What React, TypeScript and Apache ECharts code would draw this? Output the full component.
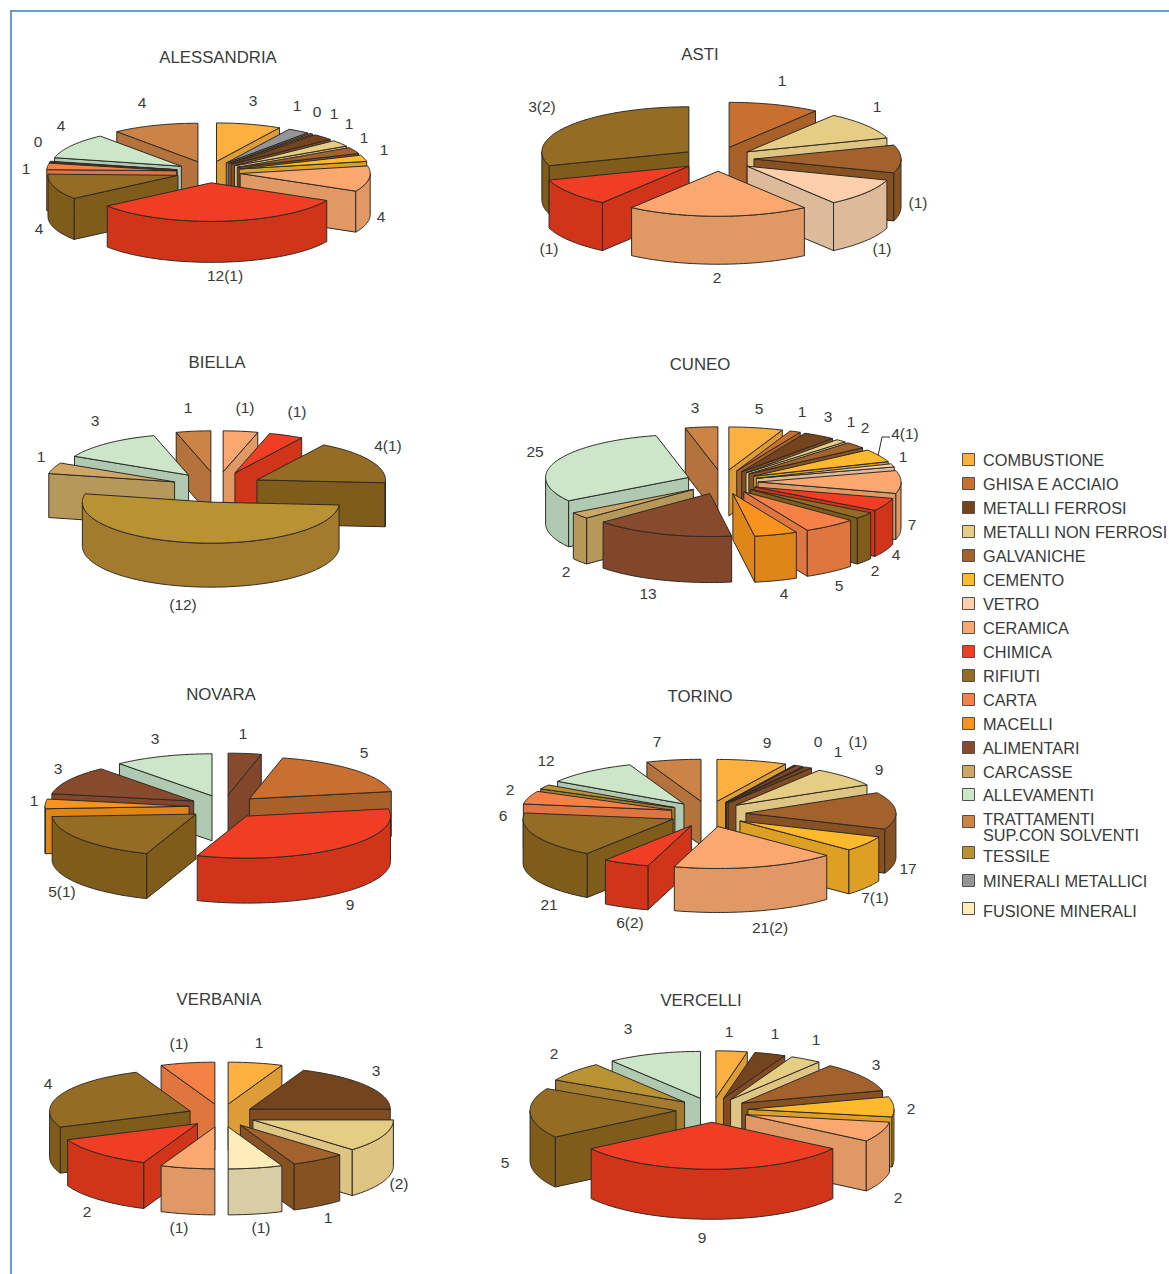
import React, { useEffect, useRef } from "react";
import * as echarts from "echarts";

const FONT = '"Liberation Sans", Arial, sans-serif';
const TEXT_COLOR = "#3a3a3a";
const EDGE_COLOR = "#2e2a26";
const FRAME_COLOR = "#2f80c8";

// Legend rows, in reading order.
const CATEGORY_NAMES = [
  "COMBUSTIONE",
  "GHISA E ACCIAIO",
  "METALLI FERROSI",
  "METALLI NON FERROSI",
  "GALVANICHE",
  "CEMENTO",
  "VETRO",
  "CERAMICA",
  "CHIMICA",
  "RIFIUTI",
  "CARTA",
  "MACELLI",
  "ALIMENTARI",
  "CARCASSE",
  "ALLEVAMENTI",
  "TRATTAMENTI\nSUP.CON SOLVENTI",
  "TESSILE",
  "MINERALI METALLICI",
  "FUSIONE MINERALI",
];
const TOP_COLORS = [
  "#fbb040", "#c97030", "#74441e", "#e6cd84", "#a3612c", "#feb92d", "#fdcfab",
  "#faa870", "#ef3e23", "#946c24", "#f68146", "#f7931e", "#874a2d", "#cfa765",
  "#cce6ca", "#cc8446", "#b89233", "#939598", "#feedb9",
];
const SIDE_COLORS = [
  "#de9c36", "#a9612a", "#834b22", "#dfc583", "#875221", "#dea024", "#ddba9a",
  "#e09865", "#d0351a", "#7f5c1a", "#df753f", "#de8618", "#82462a", "#b6985b",
  "#b0c9b1", "#b4723c", "#a27b2e", "#807f80", "#d9cda4",
];
const LEGEND_ROW_Y = [460, 484, 508, 532, 556, 580, 604, 628, 652, 676, 700, 724, 748, 772, 795, 827, 856, 881, 911];
const LEGEND_SWATCH_Y = [460, 484, 508, 532, 556, 580, 604, 628, 652, 676, 700, 724, 748, 772, 795, 822, 853, 881, 909];

const [COMB, GHISA, FERR, NONF, GALV, CEM, VETRO, CERAM, CHIM, RIF, CARTA, MAC, ALIM, CARC, ALLEV, TRATT, TESS, MINER, FUS] =
  CATEGORY_NAMES.map((_, i) => i);

// Slices of each province, clockwise from twelve o'clock.
const ALESSANDRIA_CATEGORIES = [COMB, MINER, GHISA, FERR, NONF, GALV, CEM, CERAM, CHIM, RIF, CARTA, ALIM, ALLEV, TRATT];
const ALESSANDRIA_VALUES = [3, 1, 0, 1, 1, 1, 1, 4, 12, 4, 1, 0, 4, 4];
const ALESSANDRIA_LABELS = ["3", "1", "0", "1", "1", "1", "1", "4", "12(1)", "4", "1", "0", "4", "4"];

const ASTI_CATEGORIES = [GHISA, NONF, GALV, VETRO, CERAM, CHIM, RIF];
const ASTI_VALUES = [1, 1, 1, 1, 2, 1, 3];
const ASTI_LABELS = ["1", "1", "(1)", "(1)", "2", "(1)", "3(2)"];

const BIELLA_CATEGORIES = [CERAM, CHIM, RIF, TESS, CARC, ALLEV, TRATT];
const BIELLA_VALUES = [1, 1, 4, 12, 1, 3, 1];
const BIELLA_LABELS = ["(1)", "(1)", "4(1)", "(12)", "1", "3", "1"];

const CUNEO_CATEGORIES = [COMB, GHISA, FERR, NONF, GALV, CEM, VETRO, CERAM, CHIM, RIF, CARTA, MAC, ALIM, CARC, ALLEV, TRATT];
const CUNEO_VALUES = [5, 1, 3, 1, 2, 4, 1, 7, 4, 2, 5, 4, 13, 2, 25, 3];
const CUNEO_LABELS = ["5", "1", "3", "1", "2", "4(1)", "1", "7", "4", "2", "5", "4", "13", "2", "25", "3"];

const NOVARA_CATEGORIES = [ALIM, GHISA, CHIM, RIF, MAC, ALIM, ALLEV];
const NOVARA_VALUES = [1, 5, 9, 5, 1, 3, 3];
const NOVARA_LABELS = ["1", "5", "9", "5(1)", "1", "3", "3"];

const TORINO_CATEGORIES = [COMB, GHISA, ALIM, FERR, NONF, GALV, CEM, CERAM, CHIM, RIF, CARTA, TESS, ALLEV, TRATT];
const TORINO_VALUES = [9, 0, 1, 1, 9, 17, 7, 21, 6, 21, 6, 2, 12, 7];
const TORINO_LABELS = ["9", "0", "1", "(1)", "9", "17", "7(1)", "21(2)", "6(2)", "21", "6", "2", "12", "7"];

const VERBANIA_CATEGORIES = [COMB, FERR, NONF, GALV, FUS, CERAM, CHIM, RIF, CARTA];
const VERBANIA_VALUES = [1, 3, 2, 1, 1, 1, 2, 4, 1];
const VERBANIA_LABELS = ["1", "3", "(2)", "1", "(1)", "(1)", "2", "4", "(1)"];

const VERCELLI_CATEGORIES = [COMB, FERR, NONF, GALV, CEM, CERAM, CHIM, RIF, TESS, ALLEV];
const VERCELLI_VALUES = [1, 1, 1, 3, 2, 2, 9, 5, 2, 3];
const VERCELLI_LABELS = ["1", "1", "1", "3", "2", "2", "9", "5", "2", "3"];

// Drawing layout of each pie; label anchors follow the slice order above.
const PIES = [
  {
    title: "ALESSANDRIA", titleAt: [218, 57], categories: ALESSANDRIA_CATEGORIES, values: ALESSANDRIA_VALUES, labels: ALESSANDRIA_LABELS,
    cx: 208.5, cy: 172, rx: 130, ry: 38.5, depth: 41, explode: 32,
    labelAt: [[253, 100], [297, 105], [317, 111], [334, 113], [349, 123], [364, 137], [384, 149], [381, 216], [225, 275], [39, 228], [26, 168], [38, 141], [61, 125], [142, 102]],
  },
  {
    title: "ASTI", titleAt: [700, 54], categories: ASTI_CATEGORIES, values: ASTI_VALUES, labels: ASTI_LABELS,
    cx: 718, cy: 159, rx: 147, ry: 45, depth: 48, explode: 36,
    labelAt: [[782, 80], [877, 106], [918, 202], [882, 248], [717, 277], [549, 248], [542, 106]],
  },
  {
    title: "BIELLA", titleAt: [217, 362], categories: BIELLA_CATEGORIES, values: BIELLA_VALUES, labels: BIELLA_LABELS,
    cx: 217, cy: 487, rx: 128.5, ry: 41, depth: 44, explode: 45,
    labelAt: [[245, 407], [297, 411], [388, 445], [183, 604], [41, 456], [95, 420], [188, 407]],
  },
  {
    title: "CUNEO", titleAt: [700, 364], categories: CUNEO_CATEGORIES, values: CUNEO_VALUES, labels: CUNEO_LABELS,
    cx: 722, cy: 482, rx: 143, ry: 43, depth: 46, explode: 36,
    labelAt: [[759, 408], [802, 411], [828, 416], [851, 421], [865, 427], [905, 433], [903, 456], [912, 524], [896, 554], [875, 570], [839, 585], [784, 593], [648, 593], [566, 571], [535, 451], [695, 407]],
  },
  {
    title: "NOVARA", titleAt: [221, 694], categories: NOVARA_CATEGORIES, values: NOVARA_VALUES, labels: NOVARA_LABELS,
    cx: 224, cy: 807, rx: 144, ry: 42, depth: 45, explode: 35,
    labelAt: [[243, 733], [364, 752], [350, 904], [62, 891], [34, 800], [58, 768], [155, 738]],
  },
  {
    title: "TORINO", titleAt: [700, 696], categories: TORINO_CATEGORIES, values: TORINO_VALUES, labels: TORINO_LABELS,
    cx: 708, cy: 814, rx: 150, ry: 42, depth: 44, explode: 38,
    labelAt: [[767, 742], [818, 741], [838, 751], [858, 741], [879, 769], [908, 868], [875, 897], [770, 927], [630, 922], [549, 904], [503, 815], [510, 789], [546, 760], [657, 741]],
  },
  {
    title: "VERBANIA", titleAt: [219, 999], categories: VERBANIA_CATEGORIES, values: VERBANIA_VALUES, labels: VERBANIA_LABELS,
    cx: 221.5, cy: 1115.5, rx: 140.5, ry: 42, depth: 46, explode: 34,
    labelAt: [[259, 1042], [376, 1070], [399, 1183], [328, 1217], [261, 1227], [179, 1227], [87, 1211], [48, 1083], [179, 1043]],
  },
  {
    title: "VERCELLI", titleAt: [701, 1000], categories: VERCELLI_CATEGORIES, values: VERCELLI_VALUES, labels: VERCELLI_LABELS,
    cx: 712, cy: 1110, rx: 146, ry: 47, depth: 50, explode: 36,
    labelAt: [[729, 1031], [775, 1033], [816, 1039], [876, 1064], [911, 1108], [898, 1197], [702, 1237], [505, 1162], [554, 1053], [628, 1028]],
  },
];

// A zero count still shows as a hairline wedge, as a minimum angle would on a pie.
const ZERO_WEIGHT = 0.15;
// Slices slide outward on a slightly flatter plane than the ellipse itself would give.
const EXPLODE_TILT = 0.34;
const RAD = Math.PI / 180;

type Pie = (typeof PIES)[number];

// One series item per slice, ordered back to front so nearer slices cover farther ones.
function buildSliceData(pie: Pie) {
  const weights = pie.values.map((v) => (v === 0 ? ZERO_WEIGHT : v));
  const total = weights.reduce((s, v) => s + v, 0);
  let running = 0;
  const items = pie.values.map((value, i) => {
    const start = (running / total) * 360;
    running += weights[i];
    const end = (running / total) * 360;
    return { value: [value, start, end, pie.categories[i], i], name: pie.labels[i] };
  });
  const backness = (it: { value: number[] }) => Math.abs((it.value[1] + it.value[2]) / 2 - 180);
  return items.sort((a, b) => backness(b) - backness(a));
}

function arcPoints(ax: number, ay: number, rx: number, ry: number, from: number, to: number) {
  const steps = Math.max(1, Math.ceil(Math.abs(to - from)));
  const pts: number[][] = [];
  for (let s = 0; s <= steps; s++) {
    const t = (from + ((to - from) * s) / steps) * RAD;
    pts.push([ax + rx * Math.sin(t), ay - ry * Math.cos(t)]);
  }
  return pts;
}

function makeSliceRenderer(pie: Pie) {
  return (params: any, api: any) => {
    const start = api.value(1);
    const end = api.value(2);
    const cat = api.value(3);
    const index = api.value(4);
    const mid = ((start + end) / 2) * RAD;
    const ax = pie.cx + pie.explode * Math.sin(mid);
    const ay = pie.cy - pie.explode * EXPLODE_TILT * Math.cos(mid);
    const { rx, ry, depth } = pie;
    const order = params.dataIndex * 5;
    const edge = { stroke: EDGE_COLOR, lineWidth: 1, lineJoin: "round" };
    const top = TOP_COLORS[cat];
    const side = SIDE_COLORS[cat];
    const children: any[] = [];

    const radialWall = (angle: number, z: number) => {
      const [p] = arcPoints(ax, ay, rx, ry, angle, angle);
      children.push({
        type: "polygon",
        z2: z,
        shape: { points: [[ax, ay], p, [p[0], p[1] + depth], [ax, ay + depth]] },
        style: { fill: side, ...edge },
      });
    };
    if (end < 180) radialWall(end, order);
    if (start > 180) radialWall(start, order);

    const wallFrom = Math.max(start, 90);
    const wallTo = Math.min(end, 270);
    if (wallTo > wallFrom) {
      const rim = arcPoints(ax, ay, rx, ry, wallFrom, wallTo);
      const lower = rim.map(([x, y]) => [x, y + depth]).reverse();
      children.push({
        type: "polygon",
        z2: order + 1,
        shape: { points: [...rim, ...lower] },
        style: { fill: side, ...edge },
      });
    }

    children.push({
      type: "polygon",
      z2: order + 2,
      shape: { points: [[ax, ay], ...arcPoints(ax, ay, rx, ry, start, end)] },
      style: { fill: top, ...edge },
    });

    const [lx, ly] = pie.labelAt[index];
    children.push({
      type: "text",
      z2: 1000,
      x: lx,
      y: ly,
      style: {
        text: pie.labels[index],
        fill: TEXT_COLOR,
        fontSize: 15.5,
        fontFamily: FONT,
        align: "center",
        verticalAlign: "middle",
      },
    });
    return { type: "group", children };
  };
}

function buildOption() {
  const series = PIES.map((pie) => ({
    type: "custom",
    name: pie.title,
    coordinateSystem: "none",
    silent: true,
    renderItem: makeSliceRenderer(pie),
    data: buildSliceData(pie),
  }));

  const titles = PIES.map((pie) => ({
    type: "text",
    x: pie.titleAt[0],
    y: pie.titleAt[1],
    style: { text: pie.title, fill: TEXT_COLOR, fontSize: 16.8, fontFamily: FONT, align: "center", verticalAlign: "middle" },
  }));

  const legendSwatches = CATEGORY_NAMES.map((_, i) => ({
    type: "rect",
    shape: { x: 962.5, y: LEGEND_SWATCH_Y[i] - 6.5, width: 12, height: 12 },
    style: { fill: TOP_COLORS[i], stroke: "#55504a", lineWidth: 1 },
  }));
  const legendTexts = CATEGORY_NAMES.map((name, i) => ({
    type: "text",
    x: 983,
    y: LEGEND_ROW_Y[i],
    style: { text: name, fill: TEXT_COLOR, fontSize: 16.3, lineHeight: 16, fontFamily: FONT, align: "left", verticalAlign: "middle" },
  }));

  const frame = [
    { type: "line", shape: { x1: 10.5, y1: 11, x2: 1169, y2: 11 }, style: { stroke: FRAME_COLOR, lineWidth: 1.5 } },
    { type: "line", shape: { x1: 11, y1: 10.5, x2: 11, y2: 1274 }, style: { stroke: FRAME_COLOR, lineWidth: 1.5 } },
  ];
  // Leader from the Cuneo cement slice up to its label.
  const leader = {
    type: "polyline",
    shape: { points: [[878, 456], [882, 437], [890, 437]] },
    style: { stroke: EDGE_COLOR, lineWidth: 1, fill: "none" },
  };

  return {
    animation: false,
    backgroundColor: "#ffffff",
    tooltip: { show: false },
    series,
    graphic: { elements: [...frame, ...titles, ...legendSwatches, ...legendTexts, leader] },
  };
}

export default function App() {
  const ref = useRef<HTMLDivElement>(null);
  useEffect(() => {
    const chart = echarts.init(ref.current!, undefined, { renderer: "svg" });
    chart.setOption(buildOption() as any);
    return () => chart.dispose();
  }, []);
  return <div ref={ref} style={{ position: "absolute", left: 0, top: 0, width: 1169, height: 1274 }} />;
}
